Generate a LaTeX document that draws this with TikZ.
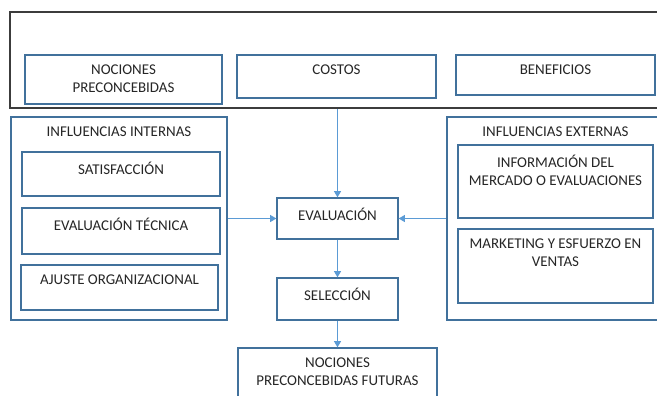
\documentclass[tikz,border=0pt]{standalone}
\usepackage{fontspec}
\setmainfont{Carlito}
\usetikzlibrary{fit,arrows.meta}
\definecolor{bordeazul}{RGB}{65,113,156}
\definecolor{flechaazul}{RGB}{91,155,213}
\definecolor{marcogris}{RGB}{60,60,60}
\tikzset{texto/.style={font=\fontsize{8.5}{10.2}\selectfont,inner sep=0pt,align=center,anchor=north,yshift=-6pt,text=black!85}}
\tikzset{flecha/.style={draw=flechaazul,line width=0.6pt,-{Triangle[length=3.5pt,width=4pt]}}}
\newcommand{\caja}[5][]{\node[draw=bordeazul,line width=0.8pt,fill=white,inner sep=0pt,fit={(#2) (#3)},label={[texto]north:#5},#1] (#4) {}}

\begin{document}
\begin{tikzpicture}[x=0.02cm,y=-0.02cm]
	\useasboundingbox (0,0) rectangle (657,396);
	\node[draw=marcogris,line width=1.4pt,inner sep=0pt,fit={(10,12) (664,108)}] (marco) {};
	\caja{25,55}{222,104}{nociones}{NOCIONES\\PRECONCEBIDAS};
	\caja{237,55}{436,98}{costos}{COSTOS};
	\caja{456,55}{655,95}{beneficios}{BENEFICIOS};
	% influencias internas
	\caja{11,117}{227,320}{internas}{INFLUENCIAS INTERNAS};
	\caja{22,152}{220,196}{satisfaccion}{SATISFACCIÓN};
	\caja{22,208}{220,254}{tecnica}{EVALUACIÓN TÉCNICA};
	\caja{21,265}{218,310}{ajuste}{AJUSTE ORGANIZACIONAL};
	% influencias externas
	\caja{447,117}{664,320}{externas}{INFLUENCIAS EXTERNAS};
	\caja{458,145}{653,218}{mercado}{INFORMACIÓN DEL\\MERCADO O EVALUACIONES};
	\caja{458,229}{653,303}{marketing}{MARKETING Y ESFUERZO EN\\VENTAS};
	% centro
	\caja{277,198}{398,239}{evaluacion}{EVALUACIÓN};
	\caja{277,278}{398,320}{seleccion}{SELECCIÓN};
	\caja{238,348}{437,404}{futuras}{NOCIONES\\PRECONCEBIDAS FUTURAS};
	\draw[flecha] (evaluacion.north |- marco.south) -- (evaluacion.north);
	\draw[flecha] (internas.east |- evaluacion) -- (evaluacion.west);
	\draw[flecha] (externas.west |- evaluacion) -- (evaluacion.east);
	\draw[flecha] (evaluacion.south) -- (seleccion.north);
	\draw[flecha] (seleccion.south) -- (futuras.north -| seleccion.south);
\end{tikzpicture}
\end{document}
